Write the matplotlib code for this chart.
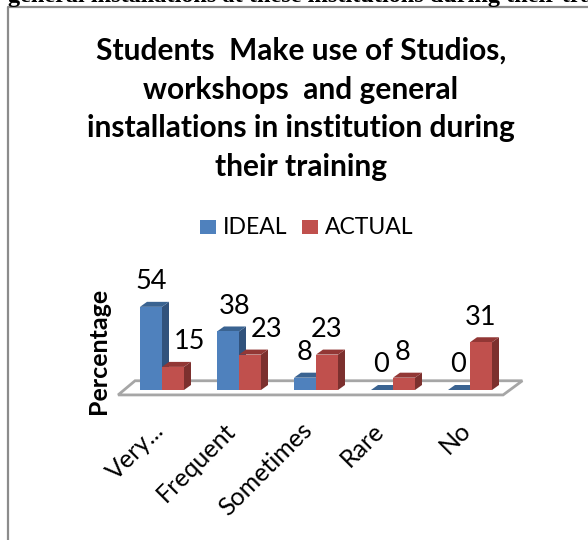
import numpy as np
import matplotlib
matplotlib.use('Agg')
import matplotlib.pyplot as plt
from matplotlib.patches import Polygon, Rectangle
from matplotlib.lines import Line2D
from matplotlib.transforms import ScaledTranslation

categories = ['Very...', 'Frequent', 'Sometimes', 'Rare', 'No']
ideal = [54, 38, 8, 0, 0]
actual = [15, 23, 23, 8, 31]

title = 'Students  Make use of Studios,\nworkshops  and general\ninstallations in institution during\ntheir training'
cut_line = 'general installations at these institutions during their training'

W, H = 588, 540
plt.rcParams['font.family'] = ['Lato', 'DejaVu Sans']

fig = plt.figure(figsize=(W / 100, H / 100), dpi=100)

# page furniture, in pixels
bg = fig.add_axes([0, 0, 1, 1])
bg.set_xlim(0, W)
bg.set_ylim(H, 0)
bg.axis('off')
bg.add_line(Line2D([8, 8, W], [H, 7, 7], color='#8c8c8c', lw=1.6))
bg.text(8, 2, cut_line, family='Liberation Serif', weight='bold', fontsize=17.5,
        ha='left', va='baseline', clip_on=False)
bg.text(301, 109, title, weight='bold', fontsize=21.5, ha='center', va='center',
        linespacing=1.47, color='black')

# legend
for x0, col, lab in [(200, '#4F81BD', 'IDEAL'), (302, '#C0504D', 'ACTUAL')]:
    bg.add_patch(Rectangle((x0, 220), 16, 14, color=col, lw=0))
    bg.text(x0 + 23, 228, lab, fontsize=16.5, va='center', ha='left')

bg.text(98, 351, 'Percentage', weight='bold', fontsize=18, rotation=90,
        ha='center', va='center')

# plot area, x: one category = 77 px, y: one percent = 1.54 px
ax = fig.add_axes([123.5 / W, (H - 390) / H, 385 / W, 92.4 / H])
ax.patch.set_alpha(0)
ax.set_xlim(-0.5, 4.5)
ax.set_ylim(0, 60)
for s in ax.spines.values():
    s.set_visible(False)
ax.set_yticks([])
ax.tick_params(axis='x', length=0, pad=20.5)
ax.set_xticks(range(len(categories)))
ax.set_xticklabels(categories, rotation=45, ha='right', rotation_mode='anchor', fontsize=18)
# tick labels don't line up evenly under the bars in the original
tick_shift = [-10, -16, -16, -21, -11]
for lab, sh in zip(ax.get_xticklabels(), tick_shift):
    lab.set_transform(lab.get_transform() + ScaledTranslation(sh / 100, 0, fig.dpi_scale_trans))

bw = 22 / 77
dx = 7 / 77
dy = 5 / 1.54

floor = Polygon([(-0.57, -3.2), (-0.35, 6.0), (4.68, 6.0), (4.43, -3.2)], closed=True,
                fc='white', ec='#a6a6a6', lw=2, clip_on=False, zorder=1)
ax.add_patch(floor)


def bar3d(x, v, front, side, top, z):
    ax.bar(x, v, bw, align='edge', color=front, lw=0, zorder=z + 0.2)
    ax.add_patch(Polygon([(x + bw, 0), (x + bw + dx, dy), (x + bw + dx, v + dy), (x + bw, v)],
                         fc=side, lw=0, clip_on=False, zorder=z))
    ax.add_patch(Polygon([(x, v), (x + dx, v + dy), (x + bw + dx, v + dy), (x + bw, v)],
                         fc=top, lw=0, clip_on=False, zorder=z + 0.1))


for i in range(len(categories)):
    bar3d(i - bw, ideal[i], '#4F81BD', '#31527C', '#3A6391', 2 + i)
    bar3d(i, actual[i], '#C0504D', '#7C302E', '#923735', 2.5 + i)

# value labels sit above the bar tops, a few are pushed sideways
ideal_shift = [0, 7, 0, -1, -1]
actual_shift = [16, 17, 0, -2, 0]
for i in range(len(categories)):
    ax.annotate(str(ideal[i]), (i - bw / 2, ideal[i]), xytext=(ideal_shift[i] * 0.72, 25 * 0.72),
                textcoords='offset points', ha='center', va='center', fontsize=19.5,
                annotation_clip=False, zorder=20)
    ax.annotate(str(actual[i]), (i + bw / 2, actual[i]), xytext=(actual_shift[i] * 0.72, 25 * 0.72),
                textcoords='offset points', ha='center', va='center', fontsize=19.5,
                annotation_clip=False, zorder=20)

fig.savefig('out.png', dpi=100)
